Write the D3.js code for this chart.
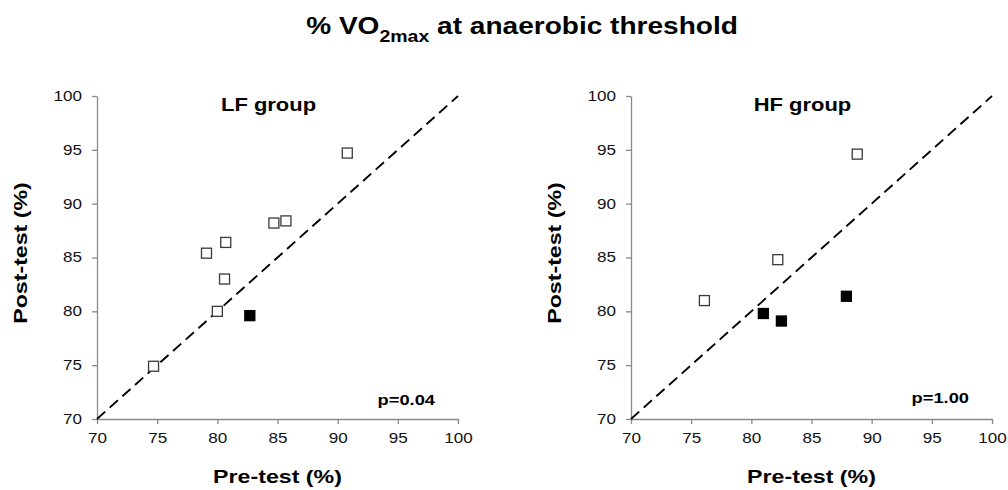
<!DOCTYPE html>
<html>
<head>
<meta charset="utf-8">
<script src="https://cdn.jsdelivr.net/npm/d3@7"></script>
<style>
  body { margin: 0; background: #fff; }
  svg { display: block; font-family: "Liberation Sans", Arial, sans-serif; }
</style>
</head>
<body>
<div id="chart"></div>
<script>
// values (pre-test, post-test)
const lfPre = [74.7, 80.0, 80.6, 80.7, 79.1, 84.7, 85.7, 90.8, 82.7];
const lfPost = [74.9, 80.0, 83.0, 86.4, 85.4, 88.2, 88.4, 94.7, 79.6];
const lfFilled = [false, false, false, false, false, false, false, false, true];

const hfPre = [76.1, 82.2, 88.8, 81.0, 82.5, 87.9];
const hfPost = [81.0, 84.8, 94.6, 79.8, 79.1, 81.4];
const hfFilled = [false, false, false, true, true, true];

const tickValues = [70, 75, 80, 85, 90, 95, 100];
const panels = [
  { name: "LF group", p: "p=0.04", pY: 405, pre: lfPre, post: lfPost, filled: lfFilled, left: 97 },
  { name: "HF group", p: "p=1.00", pY: 403, pre: hfPre, post: hfPost, filled: hfFilled, left: 631 }
];

const width = 1008;
const height = 490;
const plotW = 361;
const plotTop = 96;
const plotBottom = 419;
const stretch = 1.22; // the original text is a bit wide

const svg = d3.select("#chart")
  .append("svg")
  .attr("width", width)
  .attr("height", height);

function addText(parent, x, y, size, rotate) {
  return parent.append("text")
    .attr("transform", `translate(${x}, ${y})${rotate ? " rotate(-90)" : ""} scale(${stretch}, 1)`)
    .attr("font-size", size + "px")
    .attr("font-weight", "bold")
    .attr("fill", "#000");
}

// title with subscript
const title = addText(svg, 522, 34, 23).attr("text-anchor", "middle");
title.append("tspan").text("% VO");
title.append("tspan").attr("font-size", "16px").attr("dy", 8).text("2max");
title.append("tspan").attr("dy", -8).text(" at anaerobic threshold");

panels.forEach((panel) => {
  const x = d3.scaleLinear().domain([70, 100]).range([panel.left, panel.left + plotW]);
  const y = d3.scaleLinear().domain([70, 100]).range([plotBottom, plotTop]);

  const g = svg.append("g");

  const xAxis = g.append("g")
    .attr("transform", `translate(0, ${plotBottom})`)
    .call(d3.axisBottom(x).tickValues(tickValues).tickSize(5).tickSizeOuter(0).tickPadding(9));

  const yAxis = g.append("g")
    .attr("transform", `translate(${panel.left}, 0)`)
    .call(d3.axisLeft(y).tickValues(tickValues).tickSize(5).tickSizeOuter(0));

  [xAxis, yAxis].forEach((ax) => {
    ax.select(".domain").attr("stroke", "#8a8a8a").attr("stroke-width", 1.3);
    ax.selectAll(".tick line").attr("stroke", "#8a8a8a").attr("stroke-width", 1.3);
    ax.selectAll(".tick text")
      .attr("font-size", "14px")
      .attr("fill", "#111")
      .attr("font-family", "Liberation Sans, Arial, sans-serif")
      .attr("transform", `scale(${stretch}, 1)`);
  });
  yAxis.selectAll(".tick text").attr("x", -15 / stretch);

  // identity line
  g.append("line")
    .attr("x1", x(70))
    .attr("y1", y(70))
    .attr("x2", x(100))
    .attr("y2", y(100))
    .attr("stroke", "#000")
    .attr("stroke-width", 1.9)
    .attr("stroke-dasharray", "11,6");

  const pts = panel.pre.map((d, i) => ({ pre: d, post: panel.post[i], filled: panel.filled[i] }));
  const s = 10;
  g.selectAll("rect.pt")
    .data(pts)
    .join("rect")
    .attr("class", "pt")
    .attr("x", (d) => x(d.pre) - s / 2)
    .attr("y", (d) => y(d.post) - s / 2)
    .attr("width", s)
    .attr("height", s)
    .attr("fill", (d) => (d.filled ? "#000" : "#fff"))
    .attr("stroke", (d) => (d.filled ? "#000" : "#3a3a3a"))
    .attr("stroke-width", 1.3);

  addText(g, x(85) - 9, 111, 18).attr("text-anchor", "middle").text(panel.name);

  addText(g, x(100) - 23, panel.pY, 15).attr("text-anchor", "end").text(panel.p);

  addText(g, x(85), 483, 19).attr("text-anchor", "middle").text("Pre-test (%)");

  addText(g, panel.left - 70, 253, 19, true).attr("text-anchor", "middle").text("Post-test (%)");
});
</script>
</body>
</html>
